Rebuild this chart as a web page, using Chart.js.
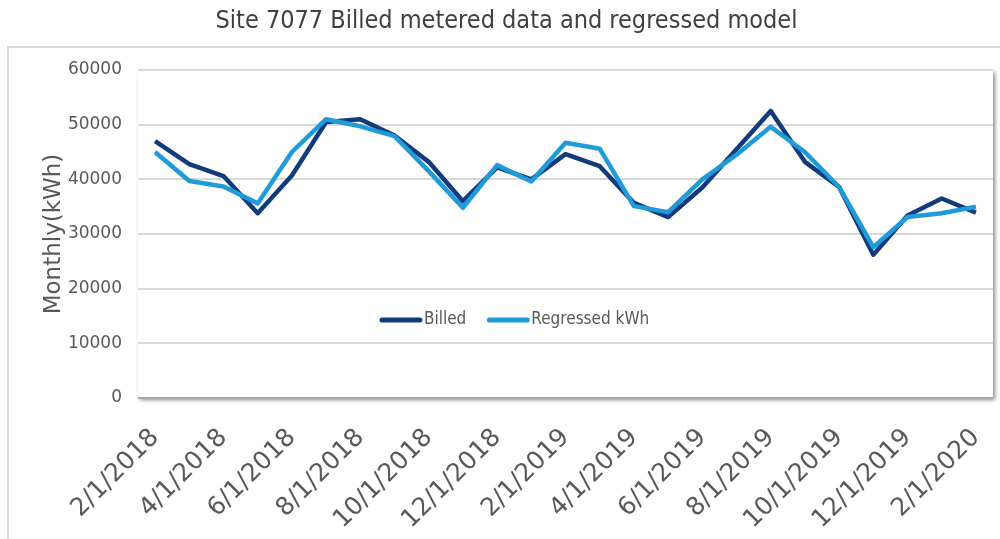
<!DOCTYPE html>
<html>
<head>
<meta charset="utf-8">
<title>Site 7077 Billed metered data and regressed model</title>
<script src="https://cdn.jsdelivr.net/npm/chart.js@4.4.0/dist/chart.umd.min.js"></script>
<style>
  body { margin: 0; background: #fff; }
</style>
</head>
<body>
<canvas id="myChart" width="1000" height="539"></canvas>
<script>
const months = ["2/1/2018", "3/1/2018", "4/1/2018", "5/1/2018", "6/1/2018", "7/1/2018", "8/1/2018",
  "9/1/2018", "10/1/2018", "11/1/2018", "12/1/2018", "1/1/2019", "2/1/2019", "3/1/2019", "4/1/2019",
  "5/1/2019", "6/1/2019", "7/1/2019", "8/1/2019", "9/1/2019", "10/1/2019", "11/1/2019", "12/1/2019",
  "1/1/2020", "2/1/2020"];
const billed = [47000, 42800, 40600, 33800, 40700, 50500, 51000, 48000, 43200, 36000, 42200, 40000,
  44600, 42400, 35700, 33100, 38500, 45500, 52500, 43200, 38600, 26200, 33400, 36500, 33900];
const regressed = [45000, 39700, 38700, 35600, 45000, 51000, 49700, 47900, 41500, 34800, 42600, 39600,
  46700, 45600, 35100, 34000, 40000, 44500, 49600, 45000, 38600, 27600, 33100, 33800, 35000];
const seriesNames = ["Billed", "Regressed kWh"];
const seriesColors = ["#113b7c", "#1f9bd9"];

const narrowFont = '"DejaVu Sans Condensed", "Liberation Sans Narrow", "DejaVu Sans", sans-serif';

// outer chart frame + plot area with a soft shadow
const framePlugin = {
  id: 'frame',
  beforeDraw: function(chart) {
    const ctx = chart.ctx;
    const a = chart.chartArea;
    ctx.save();
    ctx.strokeStyle = '#d9d9d9';
    ctx.lineWidth = 2;
    ctx.strokeRect(8, 47, 1010, 520);
    ctx.shadowColor = 'rgba(0,0,0,0.45)';
    ctx.shadowBlur = 4;
    ctx.shadowOffsetX = 2;
    ctx.shadowOffsetY = 2;
    ctx.fillStyle = '#fff';
    ctx.fillRect(a.left, a.top, a.right - a.left, a.bottom - a.top);
    ctx.restore();
  }
};

// legend drawn inside the plot area, like the original
const innerLegend = {
  id: 'innerLegend',
  afterDraw: function(chart) {
    const ctx = chart.ctx;
    const a = chart.chartArea;
    let x = a.left + (a.right - a.left) * 0.283;
    const y = a.top + (a.bottom - a.top) * 0.762;
    ctx.save();
    ctx.font = '17px ' + narrowFont;
    ctx.textBaseline = 'middle';
    ctx.lineWidth = 5;
    ctx.lineCap = 'round';
    chart.data.datasets.forEach(function(ds) {
      ctx.strokeStyle = ds.borderColor;
      ctx.beginPath();
      ctx.moveTo(x + 2, y);
      ctx.lineTo(x + 40, y);
      ctx.stroke();
      ctx.fillStyle = '#595959';
      ctx.fillText(ds.label, x + 44, y);
      x += 44 + ctx.measureText(ds.label).width + 21;
    });
    ctx.restore();
  }
};

new Chart("myChart", {
  type: "line",
  data: {
    labels: months,
    datasets: [{
      label: seriesNames[0],
      data: billed,
      borderColor: seriesColors[0],
      backgroundColor: seriesColors[0],
      borderWidth: 4.5,
      pointRadius: 0,
      tension: 0,
      borderJoinStyle: 'round',
      order: 1
    }, {
      label: seriesNames[1],
      data: regressed,
      borderColor: seriesColors[1],
      backgroundColor: seriesColors[1],
      borderWidth: 4.5,
      pointRadius: 0,
      tension: 0,
      borderJoinStyle: 'round',
      order: 0
    }]
  },
  options: {
    responsive: false,
    animation: false,
    layout: { padding: { left: 20, right: 7, top: 0, bottom: 0 } },
    plugins: {
      legend: { display: false },
      tooltip: { enabled: false },
      title: {
        display: true,
        text: "Site 7077 Billed metered data and regressed model",
        color: '#404040',
        font: { family: narrowFont, size: 25, weight: 'normal' },
        padding: { top: 6, bottom: 34 }
      }
    },
    scales: {
      x: {
        offset: true,
        grid: { display: false },
        border: { display: false },
        ticks: {
          color: '#595959',
          font: { family: '"DejaVu Sans"', size: 25 },
          minRotation: 45,
          maxRotation: 45,
          autoSkip: false,
          padding: 17,
          callback: function(v, i) { return i % 2 === 0 ? months[i] : ''; }
        },
        afterFit: function(scale) {
          scale.height = 141;
          scale.paddingLeft = 0;
          scale.paddingRight = 0;
        }
      },
      y: {
        min: 0,
        max: 60000,
        grid: {
          color: function(c) { return c.tick.value === 0 ? '#a6a6a6' : '#d9d9d9'; },
          lineWidth: 2,
          drawTicks: false
        },
        border: { display: false },
        ticks: {
          stepSize: 10000,
          color: '#595959',
          font: { family: '"DejaVu Sans"', size: 17 },
          padding: 16,
          callback: function(v) { return String(v); }
        },
        title: {
          display: true,
          text: "Monthly(kWh)",
          color: '#595959',
          font: { family: '"DejaVu Sans"', size: 23 },
          padding: { top: 20, bottom: 0 }
        },
        afterFit: function(scale) { scale.width = 118; }
      }
    }
  },
  plugins: [framePlugin, innerLegend]
});
</script>
</body>
</html>
